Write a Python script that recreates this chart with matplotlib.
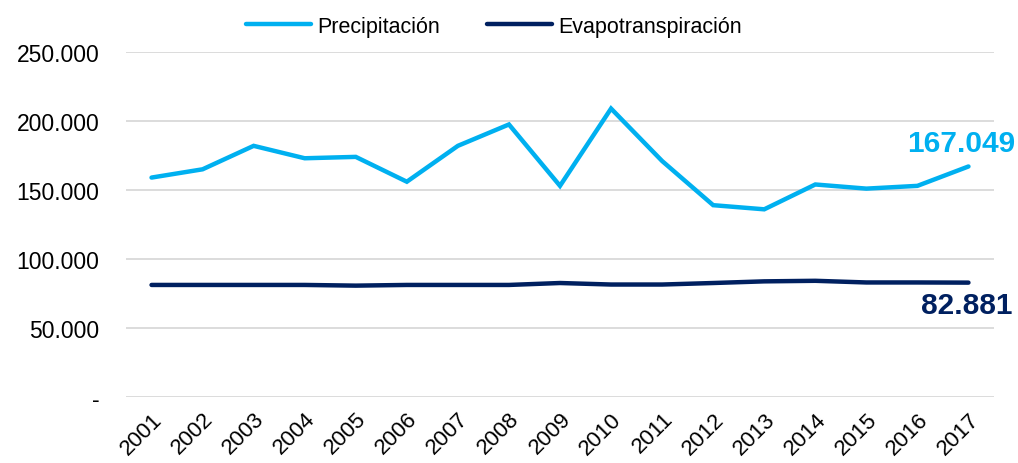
import matplotlib
matplotlib.use("Agg")
import matplotlib.pyplot as plt
from matplotlib.ticker import FuncFormatter

plt.rcParams["font.family"] = ["Liberation Sans", "DejaVu Sans"]

# =============================================================================
# Data

years = ["2001", "2002", "2003", "2004", "2005", "2006", "2007", "2008", "2009",
         "2010", "2011", "2012", "2013", "2014", "2015", "2016", "2017"]
precipitacion = [159000, 165000, 182000, 173000, 174000, 156000, 182000, 197500,
                 153000, 209000, 171000, 139000, 136000, 154000, 151000, 153000,
                 167049]
evapotranspiracion = [81200, 81200, 81200, 81200, 80700, 81200, 81200, 81200,
                      82600, 81500, 81500, 82600, 83800, 84200, 83000, 83000,
                      82881]
y_ticks = [0, 50000, 100000, 150000, 200000, 250000]

# =============================================================================

c_prec = "#00B0F0"
c_evap = "#002060"


def fmt_thousands(v, pos):
    if v == 0:
        return "-"
    return f"{v:,.0f}".replace(",", ".")


fig = plt.figure(figsize=(10.18, 4.64), dpi=100)
ax = fig.add_axes([126 / 1018, 1 - 398 / 464, (994 - 126) / 1018, (398 - 53) / 464])

x = list(range(len(years)))
ax.plot(x, precipitacion, color=c_prec, lw=3.2, solid_capstyle="round",
        solid_joinstyle="miter", label="Precipitación")
ax.plot(x, evapotranspiracion, color=c_evap, lw=3.2, solid_capstyle="round",
        label="Evapotranspiración")

# Last value labels
ax.annotate(fmt_thousands(precipitacion[-1], None), (x[-1], precipitacion[-1]),
            xytext=(-5, 7), textcoords="offset points", ha="center", va="bottom",
            fontsize=21.5, fontweight="bold", color=c_prec)
ax.annotate(fmt_thousands(evapotranspiracion[-1], None),
            (x[-1], evapotranspiracion[-1]),
            xytext=(-1, -6), textcoords="offset points", ha="center", va="top",
            fontsize=21.5, fontweight="bold", color=c_evap)

ax.set_xlim(-0.5, len(years) - 0.5)
ax.set_ylim(0, 250000)
ax.set_yticks(y_ticks)
ax.yaxis.set_major_formatter(FuncFormatter(fmt_thousands))
ax.set_xticks(x)
ax.set_xticklabels(years, rotation=45, ha="right", rotation_mode="anchor")
ax.tick_params(axis="both", length=0, colors="black")
ax.tick_params(axis="y", pad=19, labelsize=16.5)
ax.tick_params(axis="x", pad=8, labelsize=16)
ax.grid(axis="y", color="#D9D9D9", lw=1.3)
ax.set_axisbelow(True)
for s in ax.spines.values():
    s.set_visible(False)

fig.legend(loc="center", bbox_to_anchor=(494 / 1018, 1 - 27 / 464), ncol=2,
           frameon=False, fontsize=15.5, handlelength=3.0, handletextpad=0.3,
           columnspacing=2.2)

fig.savefig("out.png", dpi=100)
